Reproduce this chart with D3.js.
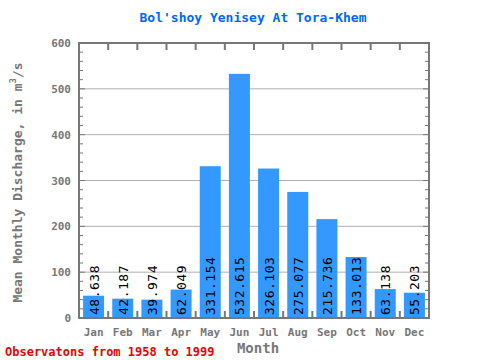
<!DOCTYPE html>
<html>
<head>
<meta charset="utf-8">
<script src="https://cdn.jsdelivr.net/npm/d3@7"></script>
<style>
  body { margin: 0; background: #fff; }
  text { font-family: "DejaVu Sans Mono", monospace; }
</style>
</head>
<body>
<svg width="480" height="360"></svg>
<script>
const months = ["Jan", "Feb", "Mar", "Apr", "May", "Jun", "Jul", "Aug", "Sep", "Oct", "Nov", "Dec"];
const discharge = [48.638, 42.187, 39.974, 62.049, 331.154, 532.615, 326.103, 275.077, 215.736, 133.013, 63.138, 55.203];
const yTicks = [0, 100, 200, 300, 400, 500, 600];

const svg = d3.select("svg");
const margin = {left: 79, right: 51, top: 43, bottom: 42};
const width = 480, height = 360;
const grey = "#777";

const x = d3.scaleBand().domain(months).range([margin.left, width - margin.right]).paddingInner(0.28).paddingOuter(0.14);
const xb = d3.scaleBand().domain(months).range([margin.left, width - margin.right]);
const y = d3.scaleLinear().domain([0, 600]).range([height - margin.bottom, margin.top]);

// grid
svg.append("g")
    .selectAll("line")
    .data(yTicks.slice(1, -1))
    .join("line")
    .attr("x1", margin.left).attr("x2", width - margin.right)
    .attr("y1", d => y(d)).attr("y2", d => y(d))
    .attr("stroke", "#b0b0b0").attr("stroke-width", 1);

// bars
svg.append("g")
    .selectAll("rect")
    .data(discharge)
    .join("rect")
    .attr("x", (d, i) => x(months[i]))
    .attr("width", x.bandwidth())
    .attr("y", d => y(d))
    .attr("height", d => y(0) - y(d))
    .attr("fill", "#3399ff");

// value labels
svg.append("g")
    .selectAll("text")
    .data(discharge)
    .join("text")
    .attr("transform", (d, i) => `translate(${x(months[i]) + x.bandwidth() / 2 + 5},${y(0) - 3}) rotate(-90)`)
    .attr("font-size", 13)
    .attr("letter-spacing", 0.5)
    .attr("fill", "#000")
    .text(d => d.toFixed(3));

// minor ticks on y axis
const minor = d3.range(0, 601, 20);
svg.append("g")
    .selectAll("line")
    .data(minor)
    .join("line")
    .attr("x1", margin.left).attr("x2", d => margin.left + (d % 100 === 0 ? 6 : 4))
    .attr("y1", d => y(d)).attr("y2", d => y(d))
    .attr("stroke", grey).attr("stroke-width", 1);
svg.append("g")
    .selectAll("line")
    .data(minor)
    .join("line")
    .attr("x1", width - margin.right).attr("x2", d => width - margin.right - (d % 100 === 0 ? 6 : 4))
    .attr("y1", d => y(d)).attr("y2", d => y(d))
    .attr("stroke", grey).attr("stroke-width", 1);

// x ticks at band edges
const edges = months.slice(1).map(m => xb(m));
svg.append("g")
    .selectAll("line")
    .data(edges)
    .join("line")
    .attr("x1", d => d).attr("x2", d => d)
    .attr("y1", y(0)).attr("y2", y(0) - 7)
    .attr("stroke", grey).attr("stroke-width", 2);
svg.append("g")
    .selectAll("line")
    .data(edges)
    .join("line")
    .attr("x1", d => d).attr("x2", d => d)
    .attr("y1", margin.top).attr("y2", margin.top + 7)
    .attr("stroke", grey).attr("stroke-width", 2);

// frame
svg.append("rect")
    .attr("x", margin.left).attr("y", margin.top)
    .attr("width", width - margin.left - margin.right)
    .attr("height", height - margin.top - margin.bottom)
    .attr("fill", "none").attr("stroke", grey).attr("stroke-width", 2);

// y tick labels
svg.append("g")
    .selectAll("text")
    .data(yTicks)
    .join("text")
    .attr("x", margin.left - 8)
    .attr("y", d => y(d) + 4)
    .attr("text-anchor", "end")
    .attr("font-size", 11).attr("font-weight", "bold")
    .attr("fill", grey)
    .text(d => d);

// x tick labels
svg.append("g")
    .selectAll("text")
    .data(months)
    .join("text")
    .attr("x", d => xb(d) + xb.bandwidth() / 2)
    .attr("y", y(0) + 18)
    .attr("text-anchor", "middle")
    .attr("font-size", 11).attr("font-weight", "bold")
    .attr("fill", grey)
    .text(d => d);

// title
svg.append("text")
    .attr("x", 253).attr("y", 22)
    .attr("text-anchor", "middle")
    .attr("font-size", 13).attr("font-weight", "bold")
    .attr("fill", "#0066ff")
    .text("Bol'shoy Yenisey At Tora-Khem");

// axis titles
svg.append("text")
    .attr("x", 258).attr("y", 353)
    .attr("text-anchor", "middle")
    .attr("font-size", 14).attr("font-weight", "bold")
    .attr("fill", grey)
    .text("Month");

const yl = svg.append("text")
    .attr("transform", `translate(22,${(margin.top + height - margin.bottom) / 2 + 2}) rotate(-90)`)
    .attr("text-anchor", "middle")
    .attr("font-size", 13).attr("font-weight", "bold")
    .attr("fill", grey);
yl.append("tspan").text("Mean Monthly Discharge, in  m");
yl.append("tspan").attr("dy", -6).attr("font-size", 9).text("3");
yl.append("tspan").attr("dy", 6).text("/s");

svg.append("text")
    .attr("x", 5).attr("y", 356)
    .attr("font-size", 12).attr("font-weight", "bold")
    .attr("fill", "#ee0000")
    .text("Observatons from 1958 to 1999");
</script>
</body>
</html>
